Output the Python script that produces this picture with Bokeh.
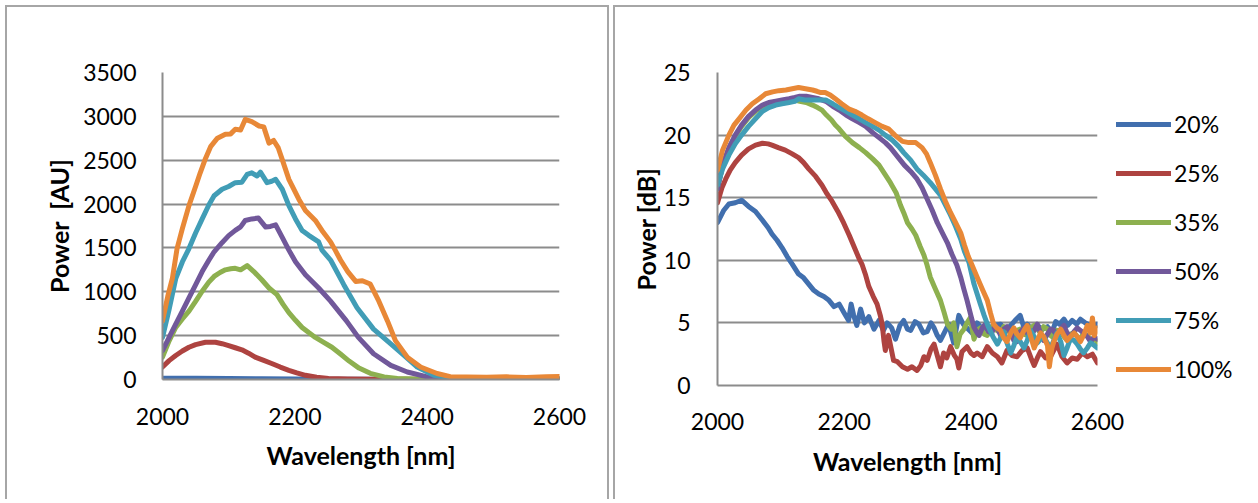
from bokeh.plotting import figure
from bokeh.models import Range1d, FixedTicker, Legend, LegendItem
from bokeh.layouts import row
from bokeh.embed import file_html
from bokeh.resources import INLINE

# ---------------- data (wavelength nm, value) ----------------
series_labels = ["20%", "25%", "35%", "50%", "75%", "100%"]
series_colors = ["#416FAE", "#AE4340", "#8DB04F", "#71589A", "#419DB6", "#E88837"]

x_ticks = [2000, 2200, 2400, 2600]
y_ticks_au = [0, 500, 1000, 1500, 2000, 2500, 3000, 3500]
y_ticks_db = [0, 5, 10, 15, 20, 25]

# Left chart: Power [AU]
blue_au = [(2000, 15), (2050, 14), (2100, 12), (2150, 9), (2200, 6), (2250, 4), (2300, 2),
           (2400, 1), (2500, 0), (2600, 0)]
red_au = [(2000, 142), (2010, 215), (2020, 274), (2030, 325), (2040, 368), (2050, 398),
          (2065, 424), (2080, 424), (2090, 408), (2100, 386), (2110, 362), (2120, 338),
          (2130, 300), (2140, 255), (2153, 218), (2166, 180), (2178, 142), (2191, 105),
          (2203, 76), (2216, 48), (2233, 25), (2251, 11), (2280, 5), (2320, 3), (2400, 2),
          (2500, 1), (2600, 1)]
green_au = [(2000, 255), (2010, 440), (2020, 593), (2030, 690), (2040, 780), (2050, 890),
            (2060, 1006), (2070, 1110), (2078, 1175), (2087, 1220), (2095, 1250), (2103, 1262),
            (2110, 1268), (2118, 1250), (2128, 1298), (2138, 1231), (2150, 1137), (2161, 1043),
            (2173, 968), (2182, 860), (2191, 762), (2201, 675), (2211, 593), (2221, 535),
            (2231, 480), (2243, 425), (2256, 368), (2269, 290), (2282, 210), (2297, 130),
            (2314, 70), (2335, 30), (2355, 12), (2380, 6), (2420, 3), (2500, 2), (2600, 2)]
purple_au = [(2000, 330), (2010, 480), (2020, 631), (2030, 780), (2040, 930), (2050, 1080),
             (2060, 1231), (2070, 1360), (2078, 1456), (2090, 1560), (2100, 1640), (2110, 1700),
             (2118, 1740), (2125, 1813), (2135, 1831), (2145, 1840), (2156, 1738), (2163, 1745),
             (2171, 1763), (2181, 1620), (2191, 1475), (2201, 1343), (2216, 1194), (2236, 1043),
             (2254, 893), (2278, 668), (2296, 480), (2319, 293), (2345, 161), (2370, 86),
             (2400, 30), (2430, 12), (2500, 8), (2600, 8)]
cyan_au = [(2000, 480), (2010, 800), (2020, 1150), (2030, 1340), (2040, 1493), (2050, 1670),
           (2060, 1831), (2070, 1990), (2078, 2095), (2090, 2169), (2100, 2200), (2110, 2244),
           (2120, 2250), (2128, 2338), (2135, 2357), (2143, 2320), (2148, 2365), (2158, 2244),
           (2165, 2260), (2171, 2282), (2181, 2169), (2191, 1982), (2201, 1831), (2211, 1700),
           (2221, 1644), (2236, 1569), (2241, 1475), (2254, 1362), (2274, 1081), (2294, 818),
           (2319, 574), (2345, 405), (2365, 274), (2385, 142), (2410, 48), (2435, 20),
           (2470, 12), (2530, 12), (2600, 12)]
orange_au = [(2000, 668), (2008, 950), (2015, 1155), (2022, 1493), (2030, 1720), (2040, 1982),
             (2050, 2200), (2057, 2357), (2065, 2520), (2073, 2658), (2083, 2751), (2095, 2796),
             (2103, 2800), (2110, 2852), (2118, 2845), (2125, 2965), (2135, 2939), (2146, 2890),
             (2153, 2880), (2161, 2695), (2168, 2725), (2175, 2640), (2181, 2507), (2191, 2282),
             (2206, 2056), (2216, 1926), (2231, 1813), (2241, 1700), (2254, 1569), (2261, 1475),
             (2269, 1362), (2280, 1230), (2292, 1118), (2302, 1126), (2314, 1088), (2327, 893),
             (2340, 668), (2352, 443), (2370, 255), (2390, 142), (2415, 68), (2435, 32),
             (2460, 28), (2490, 25), (2520, 30), (2550, 24), (2580, 32), (2600, 35)]

# Right chart: Power [dB]
blue_db = [(2000, 13.0), (2010, 14.0), (2018, 14.5), (2028, 14.6), (2038, 14.8), (2049, 14.3),
           (2060, 13.9), (2071, 13.2), (2080, 12.6), (2086, 12.1), (2094, 11.6), (2102, 11.0),
           (2110, 10.3), (2118, 9.7), (2128, 8.9), (2136, 8.6), (2144, 8.1), (2152, 7.6),
           (2160, 7.3), (2168, 7.1), (2176, 6.8), (2184, 6.3), (2192, 6.5), (2200, 5.8),
           (2207, 5.2), (2211, 6.5), (2215, 5.6), (2220, 4.8), (2226, 6.1), (2232, 5.0),
           (2239, 5.5), (2247, 4.5), (2255, 5.2), (2262, 4.4), (2268, 5.0), (2275, 4.6),
           (2281, 3.7), (2288, 4.8), (2294, 5.2), (2300, 4.5), (2305, 4.4), (2312, 5.1),
           (2318, 4.9), (2325, 4.2), (2331, 4.3), (2337, 5.0), (2342, 4.6), (2347, 4.0),
           (2352, 3.6), (2358, 4.2), (2365, 4.9), (2369, 4.1), (2373, 3.4), (2377, 4.5),
           (2381, 5.6), (2388, 4.9), (2394, 4.6), (2402, 4.2), (2410, 5.0), (2418, 4.5),
           (2426, 4.5), (2436, 4.8), (2447, 4.9), (2455, 4.3), (2463, 4.8), (2470, 5.2),
           (2478, 5.6), (2484, 4.6), (2489, 4.9), (2497, 4.4), (2505, 4.8), (2513, 4.5),
           (2521, 4.7), (2528, 4.2), (2534, 5.1), (2540, 4.9), (2547, 5.3), (2553, 4.8),
           (2560, 5.2), (2567, 4.9), (2573, 5.3), (2581, 5.0), (2589, 4.8), (2595, 4.6),
           (2600, 4.9)]
red_db = [(2000, 14.6), (2007, 15.8), (2013, 16.5), (2020, 17.2), (2028, 17.8), (2038, 18.4),
          (2049, 18.9), (2060, 19.2), (2071, 19.35), (2080, 19.3), (2086, 19.2), (2096, 19.0),
          (2107, 18.8), (2118, 18.5), (2128, 18.2), (2136, 17.8), (2144, 17.3), (2155, 16.7),
          (2165, 16.0), (2173, 15.3), (2181, 14.7), (2190, 13.9), (2199, 13.0), (2208, 12.0),
          (2218, 10.8), (2223, 10.2), (2228, 9.7), (2234, 8.8), (2239, 7.9), (2246, 7.1),
          (2252, 6.5), (2257, 5.6), (2260, 4.9), (2263, 3.5), (2265, 2.8), (2268, 3.6),
          (2270, 4.0), (2274, 3.0), (2278, 2.0), (2284, 1.9), (2292, 1.5), (2300, 1.3),
          (2307, 1.5), (2315, 1.2), (2321, 1.6), (2326, 2.3), (2331, 2.0), (2337, 2.9),
          (2342, 3.3), (2347, 2.4), (2352, 1.5), (2357, 2.6), (2362, 2.2), (2368, 3.1),
          (2374, 2.4), (2378, 2.1), (2381, 1.4), (2386, 2.7), (2394, 3.1), (2400, 2.6),
          (2405, 2.4), (2410, 2.6), (2418, 2.3), (2426, 3.1), (2434, 2.6), (2442, 2.3),
          (2449, 1.8), (2457, 2.8), (2465, 2.4), (2473, 2.3), (2481, 2.8), (2489, 3.0),
          (2495, 2.2), (2500, 1.6), (2505, 2.2), (2510, 2.7), (2518, 2.2), (2526, 2.3),
          (2531, 2.8), (2536, 3.3), (2544, 2.3), (2552, 1.8), (2560, 2.2), (2568, 2.1),
          (2576, 2.6), (2584, 2.3), (2592, 2.5), (2600, 1.8)]
green_db = [(2000, 15.8), (2008, 17.5), (2018, 18.9), (2028, 19.9), (2038, 20.7), (2049, 21.4),
            (2060, 21.9), (2071, 22.3), (2081, 22.5), (2092, 22.6), (2102, 22.7), (2113, 22.7),
            (2122, 22.8), (2130, 22.7), (2140, 22.6), (2150, 22.4), (2158, 22.2), (2165, 22.0),
            (2172, 21.6), (2180, 21.2), (2186, 20.8), (2192, 20.5), (2202, 19.9), (2213, 19.4),
            (2224, 19.0), (2234, 18.6), (2245, 18.1), (2255, 17.6), (2264, 16.9), (2273, 16.2),
            (2282, 15.4), (2289, 14.4), (2294, 13.8), (2300, 13.0), (2307, 12.5), (2313, 12.0),
            (2320, 11.1), (2326, 10.4), (2331, 9.6), (2336, 8.65), (2344, 7.7), (2352, 6.8),
            (2358, 5.8), (2363, 4.9), (2369, 4.5), (2373, 5.0), (2378, 3.1), (2383, 4.1),
            (2389, 4.5), (2394, 5.0), (2399, 5.4), (2405, 3.7), (2410, 4.4), (2415, 4.6),
            (2421, 4.1), (2426, 4.0), (2431, 4.5), (2436, 4.8), (2441, 4.4), (2447, 4.2),
            (2452, 4.7), (2457, 4.6), (2463, 4.1), (2468, 3.8), (2473, 4.4), (2478, 4.5),
            (2484, 4.1), (2489, 4.0), (2494, 4.6), (2500, 4.8), (2505, 4.5), (2510, 4.2),
            (2515, 4.7), (2521, 4.5), (2526, 4.0), (2531, 3.8), (2536, 4.4), (2542, 4.3),
            (2547, 3.9), (2552, 3.6), (2557, 4.1), (2563, 4.2), (2568, 3.9), (2573, 3.7),
            (2578, 4.2), (2584, 4.0), (2590, 3.6), (2595, 3.8), (2600, 3.4)]
purple_db = [(2000, 15.7), (2008, 17.6), (2018, 19.0), (2028, 20.0), (2038, 20.8), (2049, 21.5),
             (2060, 22.0), (2071, 22.4), (2081, 22.6), (2092, 22.7), (2102, 22.8), (2113, 22.9),
             (2122, 23.0), (2130, 23.1), (2140, 23.1), (2150, 23.0), (2160, 22.9), (2171, 22.7),
             (2182, 22.3), (2192, 22.0), (2203, 21.6), (2213, 21.3), (2224, 21.0), (2234, 20.7),
             (2245, 20.2), (2255, 19.8), (2265, 19.4), (2273, 19.0), (2284, 18.3), (2295, 17.6),
             (2305, 17.1), (2315, 16.5), (2323, 15.8), (2331, 14.9), (2339, 14.0), (2347, 13.0),
             (2355, 12.2), (2363, 11.4), (2370, 10.5), (2378, 9.6), (2384, 8.65), (2389, 7.7),
             (2394, 6.8), (2400, 5.6), (2405, 4.65), (2410, 4.2), (2413, 4.0), (2418, 4.6),
             (2423, 4.9), (2428, 4.3), (2433, 4.2), (2438, 4.8), (2442, 4.6), (2447, 4.0),
             (2452, 4.5), (2457, 4.7), (2463, 4.2), (2468, 3.6), (2473, 3.5), (2478, 4.3),
             (2484, 4.6), (2489, 4.2), (2494, 3.8), (2500, 4.4), (2505, 4.9), (2510, 4.2),
             (2515, 3.6), (2521, 4.1), (2526, 4.5), (2531, 4.4), (2536, 4.0), (2542, 4.5),
             (2547, 4.8), (2552, 4.2), (2557, 3.8), (2563, 4.3), (2568, 4.6), (2573, 4.4),
             (2578, 4.2), (2584, 3.9), (2589, 3.5), (2595, 3.9), (2600, 3.7)]
cyan_db = [(2000, 16.0), (2008, 17.3), (2018, 18.4), (2028, 19.3), (2038, 20.0), (2049, 20.7),
           (2060, 21.3), (2071, 21.9), (2081, 22.2), (2092, 22.4), (2102, 22.5), (2113, 22.6),
           (2122, 22.7), (2128, 22.9), (2138, 22.8), (2150, 22.8), (2160, 22.8), (2171, 22.8),
           (2182, 22.5), (2192, 22.2), (2203, 21.9), (2213, 21.6), (2224, 21.3), (2234, 21.0),
           (2245, 20.7), (2255, 20.4), (2265, 20.0), (2276, 19.6), (2286, 19.1), (2294, 18.6),
           (2305, 18.0), (2315, 17.3), (2325, 16.8), (2336, 16.2), (2344, 15.7), (2352, 15.2),
           (2360, 14.4), (2368, 13.6), (2376, 12.7), (2384, 11.7), (2390, 10.7), (2397, 9.85),
           (2405, 8.1), (2410, 7.3), (2415, 6.5), (2421, 5.6), (2428, 4.65), (2435, 3.9),
           (2442, 3.3), (2447, 3.8), (2452, 4.3), (2457, 3.4), (2463, 2.6), (2468, 3.2),
           (2473, 3.9), (2478, 3.5), (2484, 3.0), (2489, 3.6), (2494, 4.4), (2500, 3.9),
           (2505, 3.4), (2510, 3.7), (2515, 3.9), (2521, 3.4), (2526, 3.0), (2531, 3.6),
           (2536, 4.2), (2542, 3.5), (2547, 2.4), (2552, 3.0), (2557, 3.7), (2563, 3.6),
           (2568, 3.3), (2573, 2.9), (2578, 2.6), (2584, 3.0), (2589, 3.4), (2595, 3.2),
           (2600, 3.0)]
orange_db = [(2000, 17.2), (2008, 18.8), (2018, 20.0), (2026, 20.8), (2034, 21.3), (2045, 22.0),
             (2055, 22.5), (2066, 22.9), (2076, 23.3), (2087, 23.45), (2097, 23.55), (2108, 23.6),
             (2118, 23.7), (2128, 23.8), (2139, 23.7), (2150, 23.6), (2157, 23.5), (2163, 23.4),
             (2170, 23.4), (2178, 23.2), (2186, 22.9), (2196, 22.5), (2207, 22.1), (2217, 21.9),
             (2228, 21.6), (2238, 21.3), (2249, 21.0), (2260, 20.7), (2270, 20.5), (2280, 20.0),
             (2292, 19.5), (2302, 19.4), (2313, 19.4), (2323, 19.0), (2330, 18.5), (2336, 17.8),
             (2344, 16.8), (2352, 15.7), (2360, 14.7), (2368, 13.8), (2376, 13.0), (2384, 12.2),
             (2390, 11.2), (2396, 10.3), (2402, 9.6), (2410, 8.65), (2418, 7.7), (2426, 6.8),
             (2431, 5.8), (2436, 4.9), (2441, 4.6), (2447, 4.4), (2452, 3.8), (2457, 3.5),
             (2463, 4.2), (2468, 4.6), (2473, 4.1), (2478, 3.8), (2484, 4.4), (2489, 4.8),
             (2494, 4.0), (2500, 3.0), (2505, 3.6), (2510, 4.2), (2515, 3.9), (2521, 3.2),
             (2524, 1.5), (2528, 3.0), (2531, 3.5), (2536, 4.1), (2542, 4.5), (2547, 4.0),
             (2552, 3.6), (2557, 3.9), (2563, 4.2), (2568, 3.9), (2573, 3.5), (2578, 4.0),
             (2584, 4.8), (2589, 4.2), (2592, 5.4), (2595, 4.0), (2600, 4.6)]

au_series = [blue_au, red_au, green_au, purple_au, cyan_au, orange_au]
db_series = [blue_db, red_db, green_db, purple_db, cyan_db, orange_db]

FONT = "Lato"
GRID = "#8c8c8c"
PANEL = "#a6a6a6"
LW = 5


def style(p, yticks, xlabel, ylabel, xl_standoff, yl_standoff, xt_standoff, yt_standoff):
    p.outline_line_color = None
    p.background_fill_color = "white"
    p.border_fill_color = "white"
    p.xgrid.visible = False
    p.ygrid.grid_line_color = GRID
    p.ygrid.grid_line_width = 2
    p.xaxis.ticker = FixedTicker(ticks=x_ticks)
    p.yaxis.ticker = FixedTicker(ticks=yticks)
    for ax in (p.xaxis, p.yaxis):
        ax.axis_line_color = GRID
        ax.axis_line_width = 2
        ax.major_tick_line_color = None
        ax.minor_tick_line_color = None
        ax.major_tick_out = 0
        ax.major_tick_in = 0
        ax.major_label_text_font = FONT
        ax.major_label_text_font_size = "23px"
        ax.major_label_text_color = "black"
        ax.axis_label_text_font = FONT
        ax.axis_label_text_font_size = "25px"
        ax.axis_label_text_font_style = "bold"
        ax.axis_label_text_color = "black"
    p.xaxis.axis_label = xlabel
    p.yaxis.axis_label = ylabel
    p.xaxis.major_label_standoff = xt_standoff
    p.yaxis.major_label_standoff = yt_standoff
    p.xaxis.axis_label_standoff = xl_standoff
    p.yaxis.axis_label_standoff = yl_standoff


# ---------------- left chart ----------------
p1 = figure(width=600, height=494, x_range=Range1d(2000, 2600), y_range=Range1d(0, 3500),
            output_backend="svg", toolbar_location=None,
            min_border_left=155, min_border_right=48, min_border_top=61, min_border_bottom=122)
style(p1, y_ticks_au, "Wavelength [nm]", "Power\u00a0 [AU]", 12, 6, 28, 26)
for data, col in zip(au_series, series_colors):
    xs = [d[0] for d in data]
    ys = [d[1] for d in data]
    p1.line(xs, ys, line_color=col, line_width=LW, line_join="round", line_cap="round")
p1.styles = {"box-shadow": f"-2px -2px 0 0 {PANEL}, 2px -2px 0 0 {PANEL}"}
p1.margin = (7, 0, 0, 7)

# ---------------- right chart ----------------
p2 = figure(frame_width=380, frame_height=313, x_range=Range1d(2000, 2600), y_range=Range1d(0, 25),
            output_backend="svg", toolbar_location=None,
            min_border_left=102, min_border_right=158, min_border_top=65, min_border_bottom=116)
style(p2, y_ticks_db, "Wavelength [nm]", "Power [dB]", 13, 0, 27, 27)
items = []
for data, col, lab in zip(db_series, series_colors, series_labels):
    xs = [d[0] for d in data]
    ys = [d[1] for d in data]
    r = p2.line(xs, ys, line_color=col, line_width=LW, line_join="round", line_cap="round")
    items.append(LegendItem(label=lab, renderers=[r]))
legend = Legend(items=items, location="top_left", padding=0, margin=19,
                title=" ", title_text_font_size="12px", title_standoff=5,
                glyph_width=55, glyph_height=28, label_height=28, spacing=21,
                label_standoff=3, label_text_font=FONT, label_text_font_size="23px",
                label_text_color="black", border_line_color=None, background_fill_alpha=0)
p2.add_layout(legend, "right")
p2.styles = {"box-shadow": f"-2px -2px 0 0 {PANEL}"}
p2.margin = (7, 0, 0, 8)

layout = row(p1, p2)
open("out.html", "w").write(file_html(layout, INLINE))
